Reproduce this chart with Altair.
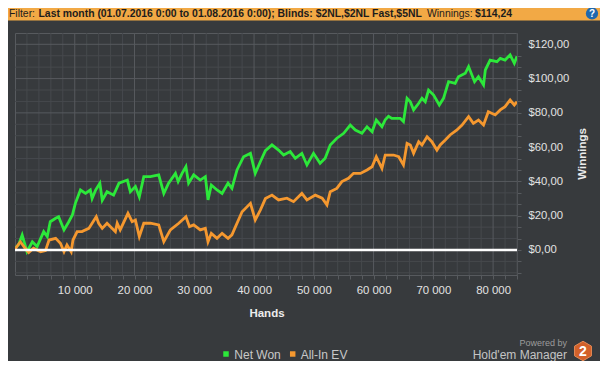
import altair as alt
import pandas as pd

# ---- data ----
net_hands = [0, 600, 1200, 2000, 2900, 3700, 4800, 5400, 5900, 6800, 7300, 8200, 9000, 9600,
             10100, 10950, 11800, 12600, 12900, 13500, 14200, 14600, 15400, 16500, 17400, 18800,
             19300, 20150, 20800, 21550, 22650, 24050, 24900, 25700, 26850, 27300, 27950, 28600,
             29050, 29900, 31000, 31850, 32300, 32850, 33800, 34650, 35650, 36300, 37150, 38250,
             39400, 40200, 41050, 41900, 43000, 44100, 44950, 46050, 46900, 48000, 48850, 49950,
             51050, 51900, 52750, 53850, 55000, 56100, 56950, 58050, 58900, 59750, 60450, 61400,
             61950, 62500, 63050, 64450, 65000, 65600, 66150, 66700, 67550, 68100, 68650, 69200,
             70050, 71000, 71700, 72550, 73650, 74200, 75350, 75900, 76900, 77550, 78400, 78700,
             79500, 80650, 81200, 82000, 82850, 83550, 84000]
net_won = [1, 3, 8.7, -1, 4.8, 2, 10.7, 7.8, 16.5, 18.5, 19.4, 11.7, 16.5, 20.4,
           27.2, 35, 33, 35, 30, 35, 38.9, 29, 34, 32, 39, 40.8,
           34, 37, 31, 42.8, 42.8, 43.8, 33, 39, 44.7, 39.9, 44.7, 48.6,
           39, 43.8, 40.8, 42.8, 29.2, 37.9, 35, 33, 39, 36, 46.7, 54.4,
           56.4, 44.7, 51.5, 58, 61.3, 58.3, 55.4, 57.4, 53.5, 56.4, 49.6, 56.4,
           50.6, 53.5, 61.3, 65.2, 68.1, 72.9, 70, 68.1, 71.9, 69, 75.8, 71.9,
           76, 78, 76.8, 76.8, 74.9, 88.5, 86.5, 81.7, 85.6, 88.5, 86.5, 93.3,
           90.4, 84.6, 88.5, 98.2, 97.2, 101.1, 103.1, 107, 98.2, 101.1, 96.3, 105,
           110.8, 109.9, 111.8, 110.8, 113.8, 108.9, 113]

ev_hands = [0, 900, 1700, 2300, 3100, 4300, 5100, 5700, 6800, 7600, 8200, 8700, 9400, 9700,
            10400, 11200, 12350, 13600, 14000, 14600, 15400, 16800, 17100, 17600, 18900, 19600,
            20150, 20800, 21550, 22650, 24050, 24900, 26000, 27400, 28600, 29200, 29900, 31000,
            31850, 32300, 32850, 33800, 34650, 35650, 36300, 36900, 38000, 39400, 40200, 41050,
            41900, 43000, 44100, 45500, 46600, 48000, 48850, 50250, 51400, 52200, 52750, 53850,
            54700, 55800, 56650, 57800, 58900, 59750, 60450, 61400, 61950, 63350, 64200, 65000,
            65600, 66150, 66700, 67550, 68100, 68950, 69750, 70600, 71150, 72000, 72800, 73950,
            74800, 75900, 76700, 77550, 78400, 79200, 80350, 81200, 82000, 82850, 83550, 84000]
all_in_ev = [0.5, 4.8, 1, -1.5, 1, -1, -0.4, 5.8, 6.8, 3.9, -1, 2.9, -1, 5.8,
             10.7, 10.7, 12.6, 19.4, 15.6, 12.6, 15.6, 10.7, 15.6, 11.7, 21.4, 16.5,
             17.5, 7.8, 15.6, 15.6, 14.6, 4.8, 11.7, 15.6, 19.4, 13.6, 14.6, 11.7,
             12.6, 4.8, 9.7, 6.8, 9.7, 6.8, 8.8, 13.6, 22.3, 27.2, 17.5, 23.3,
             30, 32, 29.2, 30.2, 28.2, 33, 29.2, 32, 30.2, 26.3, 34, 35.9,
             39.9, 41.8, 44.7, 44.7, 46.7, 48.6, 54.4, 47.6, 55.4, 55.4, 54.4, 49.6,
             62.2, 61.3, 56.4, 63.2, 61.3, 66.1, 63.2, 58.3, 61.3, 64.2, 67.1, 70,
             72.9, 77.8, 73.9, 75.8, 72.9, 80.7, 78.8, 81.7, 83.6, 87.5, 84.6, 86.5]

series_names = ["Net Won", "All-In EV"]
series_colors = ["#2ce83a", "#f5982f"]

header_filter = "Filter:"
header_bold = "Last month (01.07.2016 0:00 to 01.08.2016 0:00); Blinds: $2NL,$2NL Fast,$5NL"
header_win = "Winnings:"
header_win_value = "$114,24"

# ---- styling ----
BG = "#373a3d"
MINOR = "#46494d"
MAJOR = "#575a5e"
FONT = "Liberation Sans"

df = pd.concat([
    pd.DataFrame({"hands": net_hands, "value": net_won, "series": series_names[0]}),
    pd.DataFrame({"hands": ev_hands, "value": all_in_ev, "series": series_names[1]}),
])

x_ticks = list(range(2000, 84001, 2000))
y_ticks = [k * 20 / 3 for k in range(-2, 19)]

x_scale = alt.Scale(domain=[0, 84000], nice=False, zero=False)
y_scale = alt.Scale(domain=[-14.6, 126.6], nice=False, zero=False)

x_axis = alt.Axis(values=x_ticks, grid=False, domain=False, tickColor=MAJOR, tickSize=4,
                  labelExpr="datum.value % 10000 === 0 ? replace(format(datum.value, ','), ',', ' ') : ''",
                  labelColor="#e2e2e2", labelFont=FONT, labelFontSize=11.4, labelPadding=5,
                  labelOverlap=False, labelFlush=False, title=None)
y_axis = alt.Axis(orient="right", values=y_ticks, grid=False, domain=False, tickColor=MAJOR,
                  tickSize=4,
                  labelExpr="(abs(datum.value/20 - round(datum.value/20)) < 0.01 && datum.value > -1) ? '$' + replace(format(datum.value, '.2f'), '.', ',') : ''",
                  labelColor="#e2e2e2", labelFont=FONT, labelFontSize=11.3, labelPadding=7,
                  labelOverlap=False, labelFlush=False, title=None)

X = alt.X("hands:Q", scale=x_scale, axis=x_axis)
Y = alt.Y("value:Q", scale=y_scale, axis=y_axis)

vminor = pd.DataFrame({"hands": [v for v in x_ticks if v % 10000 != 0]})
vmajor = pd.DataFrame({"hands": [v for v in x_ticks if v % 10000 == 0]})
hminor = pd.DataFrame({"value": [y_ticks[i] for i in range(len(y_ticks)) if (i - 2) % 3 != 0]})
hmajor = pd.DataFrame({"value": [y_ticks[i] for i in range(len(y_ticks)) if (i - 2) % 3 == 0 and y_ticks[i] > 1]})
zero = pd.DataFrame({"value": [0]})

layers = [
    alt.Chart(vminor).mark_rule(color=MINOR, strokeWidth=1).encode(x=X),
    alt.Chart(hminor).mark_rule(color=MINOR, strokeWidth=1).encode(y=Y),
    alt.Chart(vmajor).mark_rule(color=MAJOR, strokeWidth=1).encode(x=X),
    alt.Chart(hmajor).mark_rule(color=MAJOR, strokeWidth=1).encode(y=Y),
    alt.Chart(df).mark_line(strokeWidth=2.8, clip=True).encode(
        x=X, y=Y,
        color=alt.Color("series:N", scale=alt.Scale(domain=series_names, range=series_colors), legend=None),
        order=alt.Order("hands:Q"),
    ),
    alt.Chart(zero).mark_rule(color="#ffffff", strokeWidth=2.5).encode(y=Y),
]

one = pd.DataFrame({"a": [0]})


def txt(text, x, y, size=11, color="#e0e0e0", weight="normal", align="left", angle=0, font=FONT):
    return alt.Chart(one).mark_text(text=text, fontSize=size, color=color, fontWeight=weight,
                                    align=align, baseline="middle", angle=angle, font=font).encode(
        x=alt.value(x), y=alt.value(y))


# header bar
layers.append(alt.Chart(one).mark_rect(color="#f2a945").encode(
    x=alt.value(-7), x2=alt.value(585), y=alt.value(-25), y2=alt.value(-12.5)))
layers += [
    txt(header_filter, -6, -19.5, size=10.4, color="#1c1c1c"),
    txt(header_bold, 23.5, -19.5, size=10.4, color="#1c1c1c", weight="bold"),
    txt(header_win, 412, -19.5, size=10.4, color="#1c1c1c"),
    txt(header_win_value, 460, -19.5, size=10.4, color="#1c1c1c", weight="bold"),
]
layers.append(alt.Chart(one).mark_point(shape="circle", filled=True, size=150, color="#1f68ad", opacity=1).encode(
    x=alt.value(577), y=alt.value(-19.5)))
layers.append(txt("?", 577, -19, size=10, color="#ffffff", weight="bold", align="center"))

# axis titles
layers.append(txt("Winnings", 568, 121, size=11.5, color="#ececec", weight="bold", align="center", angle=270))
layers.append(txt("Hands", 252, 281, size=11.5, color="#ececec", weight="bold", align="center"))

# legend
layers.append(alt.Chart(one).mark_square(filled=True, size=30, color=series_colors[0], opacity=1).encode(
    x=alt.value(211), y=alt.value(321)))
layers.append(txt(series_names[0], 219.3, 322, size=12, color="#c8c8c8"))
layers.append(alt.Chart(one).mark_square(filled=True, size=30, color=series_colors[1], opacity=1).encode(
    x=alt.value(277.7), y=alt.value(321)))
layers.append(txt(series_names[1], 285.7, 322, size=12, color="#c8c8c8"))

# branding
layers.append(txt("Powered by", 552, 310, size=9, color="#9c9c9c", align="right"))
layers.append(txt("Hold'em Manager", 552, 321.5, size=12, color="#c4c4c4", align="right"))
hexagon = "M0,-1L0.866,-0.5L0.866,0.5L0,1L-0.866,0.5L-0.866,-0.5Z"
layers.append(alt.Chart(one).mark_point(shape=hexagon, filled=True, size=380, color="#d2612a", opacity=1,
                                        stroke="#e58a55", strokeWidth=1).encode(
    x=alt.value(568), y=alt.value(318)))
layers.append(txt("2", 568, 318.5, size=14, color="#ffffff", weight="bold", align="center"))

chart = alt.layer(*layers).properties(
    width=502, height=242,
    background=BG,
    padding={"left": 7, "top": 25, "right": 83, "bottom": 86},
    autosize=alt.AutoSizeParams(type="none"),
).configure_view(stroke=MAJOR, strokeWidth=1)

chart.save("out.html", embed_options={"renderer": "svg", "actions": False})
